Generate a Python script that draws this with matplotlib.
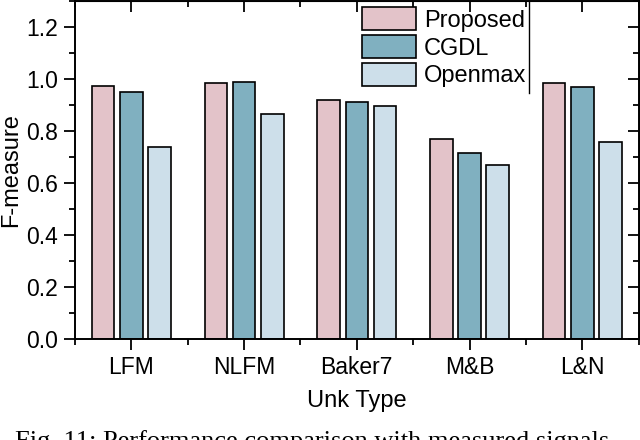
import numpy as np
import matplotlib
matplotlib.use("Agg")
import matplotlib.pyplot as plt
from matplotlib.ticker import MultipleLocator, FixedLocator, FormatStrFormatter

# data
categories = ["LFM", "NLFM", "Baker7", "M&B", "L&N"]
proposed = [0.973, 0.986, 0.920, 0.770, 0.985]
cgdl = [0.949, 0.989, 0.912, 0.715, 0.969]
openmax = [0.738, 0.865, 0.896, 0.669, 0.758]
series_names = ["Proposed", "CGDL", "Openmax"]
colors = ["#E3C3C9", "#80B0C0", "#CDDFEA"]

plt.rcParams["font.family"] = ["Liberation Sans", "DejaVu Sans"]
plt.rcParams["font.size"] = 16.5

fig = plt.figure(figsize=(6.4, 4.4), dpi=100)
ax = fig.add_axes([0.117, 0.2295, 0.881, 0.7685])

x = np.arange(1, len(categories) + 1)
width = 0.2
offsets = [-0.25, 0.0, 0.25]
for vals, name, c, off in zip([proposed, cgdl, openmax], series_names, colors, offsets):
    ax.bar(x + off, vals, width, color=c, edgecolor="black", linewidth=1.2, label=name)

ax.set_xlim(0.5, 5.5)
ax.set_ylim(0, 1.3)
ax.set_xticks(x)
ax.set_xticklabels(categories)
ax.xaxis.set_minor_locator(FixedLocator(np.arange(0.5, 6.0, 1.0)))
ax.yaxis.set_major_locator(MultipleLocator(0.2))
ax.yaxis.set_minor_locator(MultipleLocator(0.1))
ax.yaxis.set_major_formatter(FormatStrFormatter("%.1f"))

ax.tick_params(which="both", direction="out", width=1.3, top=False, right=False)
ax.tick_params(which="major", length=8, pad=4)
ax.tick_params(which="minor", length=4)
for s in ax.spines.values():
    s.set_linewidth(1.4)

# inward ticks on the top and right side
ax2 = ax.secondary_xaxis("top")
ax2.set_xticks(x)
ax2.xaxis.set_minor_locator(FixedLocator(np.arange(0.5, 6.0, 1.0)))
ax2.tick_params(which="both", direction="in", width=1.3, labeltop=False)
ax2.tick_params(which="major", length=8)
ax2.tick_params(which="minor", length=4)
ax3 = ax.secondary_yaxis("right")
ax3.yaxis.set_major_locator(MultipleLocator(0.2))
ax3.yaxis.set_minor_locator(MultipleLocator(0.1))
ax3.tick_params(which="both", direction="in", width=1.3, labelright=False)
ax3.tick_params(which="major", length=8)
ax3.tick_params(which="minor", length=4)

ax.set_xlabel("Unk Type", labelpad=8, fontsize=17)
ax.set_ylabel("F-measure", labelpad=3, fontsize=17)

ax.legend(loc="upper left", bbox_to_anchor=(0.5, 0.995), frameon=False,
          handlelength=2.3, handleheight=1.1, labelspacing=0.15,
          handletextpad=0.35, borderaxespad=0.0, borderpad=0.2, fontsize=17)
ax.plot([0.805, 0.805], [0.729, 1.0], color="black", linewidth=1.0,
        transform=ax.transAxes, clip_on=False)

fig.text(0.024, 0.022, "Fig. 11: Performance comparison with measured signals.",
         family=["Liberation Serif", "DejaVu Serif"], fontsize=19, va="top", ha="left")

fig.savefig("out.png", dpi=100)
